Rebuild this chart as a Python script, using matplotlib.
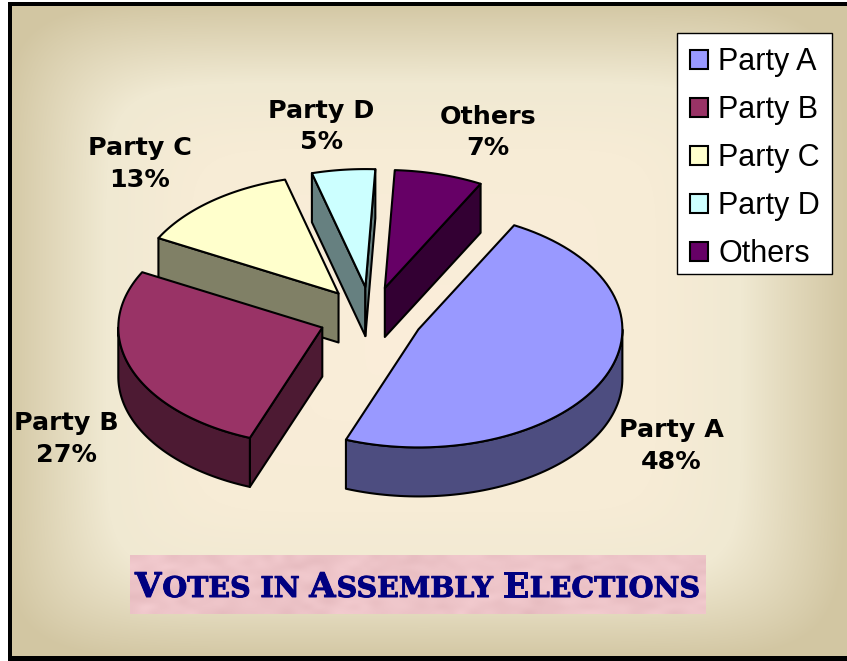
import matplotlib
matplotlib.use("Agg")
import matplotlib.pyplot as plt
import matplotlib.patheffects as pe
import numpy as np
from matplotlib.patches import Patch, Polygon, Rectangle

parties = ["Party A", "Party B", "Party C", "Party D", "Others"]
votes = [48, 27, 13, 5, 7]
top_colors = ["#9999FF", "#993366", "#FFFFCC", "#CCFFFF", "#660066"]
wall_colors = ["#4D4D80", "#4D1A33", "#808066", "#668080", "#330033"]
label_centers = [(671, 446), (66, 439), (140, 164), (321, 126.5), (488, 132.5)]
chart_title = "Votes in Assembly Elections"

W, H = 847, 661
CX, CY = 371, 317
RX, RY = 204, 118
DEPTH = 49
EXPLODE = 0.255
START_ANGLE = -62


def ellipse_points(center, t_from, t_to):
    t = np.radians(np.linspace(t_from, t_to, 80))
    return np.column_stack([center[0] + RX * np.cos(t), center[1] + RY * np.sin(t)])


def draw_background(ax):
    # box shaped gradient, cream in the middle and tan at the frame
    xs = np.linspace(-1, 1, W)
    ys = np.linspace(-1, 1, H)
    d = (np.abs(xs)[None, :] ** 8 + np.abs(ys)[:, None] ** 8) ** (1 / 8)
    stops = [0, 0.55, 0.75, 1]
    red = np.interp(d, stops, [251, 247, 240, 210])
    green = np.interp(d, stops, [238, 236, 233, 198])
    blue = np.interp(d, stops, [218, 214, 210, 162])
    ax.imshow(np.dstack([red, green, blue]) / 255, extent=(0, W, H, 0), aspect="auto", zorder=0)
    ax.add_patch(Rectangle((0, 0), W, 3, fc="white", ec="none", zorder=1))
    ax.add_patch(Rectangle((0, 0), 8, H, fc="white", ec="none", zorder=1))
    ax.add_patch(Rectangle((8, 2), W, 4, fc="black", ec="none", zorder=2))
    ax.add_patch(Rectangle((8, 2), 4, H, fc="black", ec="none", zorder=2))
    ax.add_patch(Rectangle((8, 656), W, 5, fc="black", ec="none", zorder=2))


def draw_slice(ax, t0, t1, top_color, wall_color, z):
    mid = np.radians((t0 + t1) / 2)
    apex = np.array([CX + EXPLODE * RX * np.cos(mid), CY + EXPLODE * RY * np.sin(mid)])
    style = dict(ec="black", lw=1.5, joinstyle="round", zorder=z)

    arc = ellipse_points(apex, t0, t1)
    down = np.array([0, DEPTH])
    # a cut face is only seen when it turns toward the bottom of the figure
    if np.cos(np.radians(t0)) < 0:
        ax.add_patch(Polygon([apex, arc[0], arc[0] + down, apex + down], fc=wall_color, **style))
    if np.cos(np.radians(t1)) > 0:
        ax.add_patch(Polygon([apex, arc[-1], arc[-1] + down, apex + down], fc=wall_color, **style))

    # outer wall only shows on the front half of the ellipse
    a, b = max(t0, 0), min(t1, 180)
    if a < b:
        rim = ellipse_points(apex, a, b)
        ax.add_patch(Polygon(np.vstack([rim, (rim + down)[::-1]]), fc=wall_color, **style))

    ax.add_patch(Polygon(np.vstack([[apex], arc]), fc=top_color, **style))


def draw_pie(ax):
    spans = np.array(votes) * 3.6
    starts = START_ANGLE + np.concatenate([[0], np.cumsum(spans)[:-1]])
    # back slices first, Party A ends up on top
    for z, i in enumerate([4, 3, 2, 1, 0]):
        draw_slice(ax, starts[i], starts[i] + spans[i], top_colors[i], wall_colors[i], 5 + z)
    for name, v, (x, y) in zip(parties, votes, label_centers):
        ax.text(x, y, f"{name}\n{v}%", ha="center", va="center", fontsize=18.3, fontweight="bold",
                family="DejaVu Sans", linespacing=1.38, color="black", zorder=20)


def draw_title(ax):
    # textured pink plate behind the heading
    rng = np.random.default_rng(4)
    noise = rng.normal(size=(12, 60))
    base = np.array([237, 196, 200]) / 255
    tex = base + noise[..., None] * np.array([0.016, 0.02, 0.02])
    ax.imshow(np.clip(tex, 0, 1), extent=(130, 706, 614, 555), aspect="auto",
              interpolation="bicubic", zorder=3)
    ax.set_xlim(0, W)
    ax.set_ylim(H, 0)

    # small caps: every word set in two sizes, placed one run after the other
    renderer = ax.figure.canvas.get_renderer()
    bold = [pe.withStroke(linewidth=0.7, foreground="#000080")]
    x = 135.0
    for word in chart_title.split():
        first = word[0].isupper()
        runs = [(word[0], 24.5), (word[1:].upper(), 20.5)] if first else [(word.upper(), 20.5)]
        for run, size in runs:
            t = ax.text(x, 597, run, fontsize=size, fontweight="bold", family="DejaVu Serif",
                        color="#000080", ha="left", va="baseline", zorder=21, path_effects=bold)
            x += t.get_window_extent(renderer).width + 1
        x += 8.5


def draw_legend(ax):
    # frame drawn apart from the legend so its height can be set exactly
    ax.add_patch(Rectangle((677, 33), 155, 241, fc="white", ec="black", lw=1.0, zorder=29))
    handles = [Patch(fc=c, ec="black", lw=1.5) for c in top_colors]
    leg = ax.legend(handles, parties, loc="upper left", bbox_to_anchor=(675.5, 33),
                    bbox_transform=ax.transData, borderaxespad=0,
                    prop={"family": "Liberation Sans", "size": 22},
                    handlelength=0.6, handleheight=0.6, handletextpad=0.34,
                    labelspacing=0.59, borderpad=0.46, frameon=False)
    leg.set_zorder(30)


if __name__ == '__main__':
    fig = plt.figure(figsize=(W / 100, H / 100), dpi=100)
    ax = fig.add_axes([0, 0, 1, 1])
    ax.axis("off")
    draw_background(ax)
    draw_pie(ax)
    draw_title(ax)
    draw_legend(ax)
    fig.savefig("out.png", dpi=100)
